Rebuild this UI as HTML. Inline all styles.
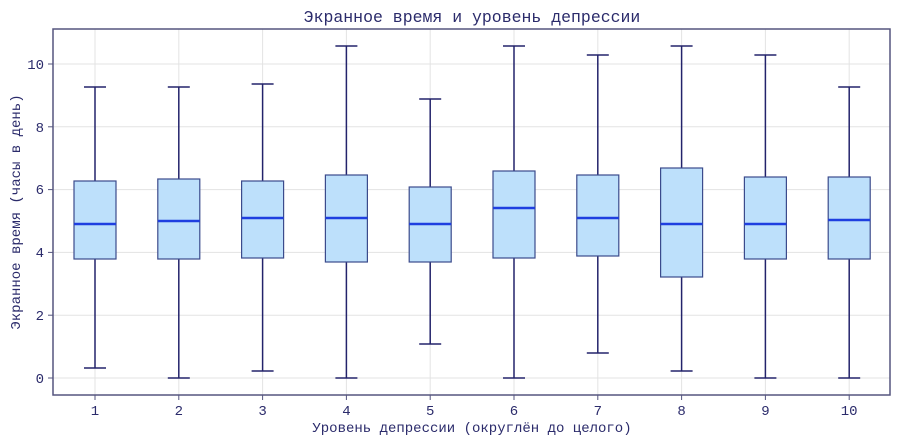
<!DOCTYPE html><html><head><meta charset="utf-8"><style>body{margin:0;background:#fff}svg{display:block}text{font-family:"Liberation Mono",monospace;fill:#2b2b6b}</style></head><body>
<svg width="900" height="444" viewBox="0 0 900 444">
<g stroke="#e3e3e3" stroke-width="1">
<line x1="53" x2="890" y1="378" y2="378"/><line x1="53" x2="890" y1="315.2" y2="315.2"/><line x1="53" x2="890" y1="252.4" y2="252.4"/><line x1="53" x2="890" y1="189.6" y2="189.6"/><line x1="53" x2="890" y1="126.8" y2="126.8"/><line x1="53" x2="890" y1="64" y2="64"/>
<line x1="95" x2="95" y1="29" y2="395"/><line x1="178.8" x2="178.8" y1="29" y2="395"/><line x1="262.6" x2="262.6" y1="29" y2="395"/><line x1="346.4" x2="346.4" y1="29" y2="395"/><line x1="430.2" x2="430.2" y1="29" y2="395"/><line x1="514" x2="514" y1="29" y2="395"/><line x1="597.8" x2="597.8" y1="29" y2="395"/><line x1="681.6" x2="681.6" y1="29" y2="395"/><line x1="765.4" x2="765.4" y1="29" y2="395"/><line x1="849.2" x2="849.2" y1="29" y2="395"/>
</g>
<g id="boxes"></g>
<rect x="53" y="29" width="837" height="366" fill="none" stroke="#55557f" stroke-width="1.5"/>
<text x="472" y="22" font-size="16.5" text-anchor="middle">Экранное время и уровень депрессии</text>
<text x="472" y="432" font-size="14" text-anchor="middle">Уровень депрессии (округлён до целого)</text>
<text transform="translate(20,212) rotate(-90)" font-size="14" text-anchor="middle">Экранное время (часы в день)</text>
<g font-size="14" text-anchor="end">
<text x="44" y="383">0</text><text x="44" y="320">2</text><text x="44" y="257">4</text><text x="44" y="194">6</text><text x="44" y="132">8</text><text x="44" y="69">10</text></g>
<g stroke="#55557f"><line x1="48" x2="53" y1="378" y2="378"/><line x1="48" x2="53" y1="315.2" y2="315.2"/><line x1="48" x2="53" y1="252.4" y2="252.4"/><line x1="48" x2="53" y1="189.6" y2="189.6"/><line x1="48" x2="53" y1="126.8" y2="126.8"/><line x1="48" x2="53" y1="64" y2="64"/></g>
<g font-size="14" text-anchor="middle" id="xl"></g>
</svg>
<script>
var d=[[87,181,224,259,368],[87,179,221,259,378],[84,181,218,258,371],[46,175,218,262,378],[99,187,224,262,344],[46,171,208,258,378],[55,175,218,256,353],[46,168,224,277,371],[55,177,224,259,378],[87,177,220,259,378]];
var s='',x='';
d.forEach(function(b,i){var c=95+i*83.8;
s+='<line x1="'+c+'" x2="'+c+'" y1="'+b[0]+'" y2="'+b[1]+'" stroke="#23236b" stroke-width="1.5"/>';
s+='<line x1="'+c+'" x2="'+c+'" y1="'+b[3]+'" y2="'+b[4]+'" stroke="#23236b" stroke-width="1.5"/>';
s+='<line x1="'+(c-11)+'" x2="'+(c+11)+'" y1="'+b[0]+'" y2="'+b[0]+'" stroke="#23236b" stroke-width="1.5"/>';
s+='<line x1="'+(c-11)+'" x2="'+(c+11)+'" y1="'+b[4]+'" y2="'+b[4]+'" stroke="#23236b" stroke-width="1.5"/>';
s+='<rect x="'+(c-21)+'" y="'+b[1]+'" width="42" height="'+(b[3]-b[1])+'" fill="#bde0fb" stroke="#3b4b8c" stroke-width="1.2"/>';
s+='<line x1="'+(c-21)+'" x2="'+(c+21)+'" y1="'+b[2]+'" y2="'+b[2]+'" stroke="#1f3fe0" stroke-width="2.5"/>';
x+='<line x1="'+c+'" x2="'+c+'" y1="395" y2="400" stroke="#55557f"/><text x="'+c+'" y="415" stroke="none">'+(i+1)+'</text>';});
document.getElementById('boxes').innerHTML=s;document.getElementById('xl').innerHTML=x;
</script>
</body></html>
